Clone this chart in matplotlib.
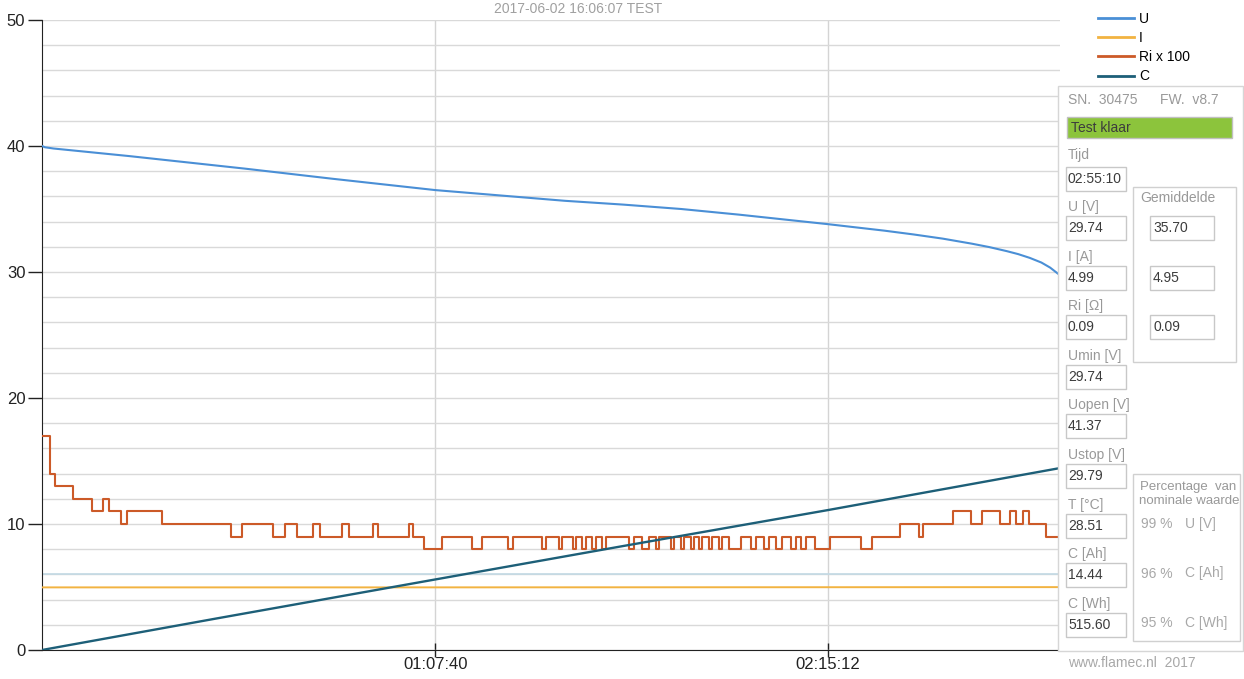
import matplotlib
matplotlib.use('Agg')
import matplotlib.pyplot as plt
from matplotlib.patches import Rectangle
from matplotlib.ticker import MultipleLocator

# tijd in minuten
u_tijd = [0, 0.5, 2, 15, 35, 50, 67.7, 90, 100, 110, 120, 135.2, 145, 150, 155, 160, 163, 166, 168,
          170, 172, 173.5, 175.2]
u_waarde = [40.0, 39.9, 39.8, 39.2, 38.2, 37.4, 36.5, 35.65, 35.35, 35.0, 34.55, 33.8, 33.28, 32.98,
            32.65, 32.25, 31.98, 31.66, 31.42, 31.12, 30.75, 30.35, 29.74]

i_tijd = [0, 60, 120, 175.2]
i_waarde = [4.97, 4.97, 4.98, 4.99]

c_tijd = [0, 30, 67.7, 100, 135.2, 175.2]
c_waarde = [0, 2.5, 5.6, 8.25, 11.1, 14.44]

ri_tijd = [0, 1.4, 2.2, 5.3, 8.6, 10.5, 11.5, 13.6, 14.6, 20.6, 32.6, 34.5, 39.7, 41.9,
           43.8, 46.7, 47.9, 51.7, 52.9, 56.9, 57.9, 63.1, 63.9, 65.8, 68.9, 74.0, 75.8,
           80.2, 81.1, 86.1, 86.8, 89.0, 89.5, 91.4, 91.9, 92.9, 93.6, 94.7, 95.3, 96.4,
           97.1, 101.0, 101.9, 103.3, 104.5, 105.7, 106.2, 108.2, 108.7, 110.0, 110.5,
           111.7, 112.2, 113.0, 113.6, 114.8, 115.3, 116.5, 117.0, 118.2, 120.3, 122.0,
           122.8, 124.2, 125.1, 126.4, 127.3, 128.9, 129.7, 130.6, 131.4, 133.1, 135.7,
           140.9, 142.8, 147.7, 151.0, 151.7, 156.7, 159.9, 161.7, 164.9, 166.6, 167.7,
           168.9, 169.9, 172.8, 175.2]
ri_waarde = [17, 14, 13, 12, 11, 12, 11, 10, 11, 10, 9, 10, 9, 10,
             9, 10, 9, 10, 9, 10, 9, 10, 9, 8, 9, 8, 9,
             8, 9, 8, 9, 8, 9, 8, 9, 8, 9, 8, 9, 8,
             9, 8, 9, 8, 9, 8, 9, 8, 9, 8, 9,
             8, 9, 8, 9, 8, 9, 8, 9, 8, 9, 8,
             9, 8, 9, 8, 9, 8, 9, 8, 9, 8, 9,
             8, 9, 10, 9, 10, 11, 10, 11, 10, 11, 10,
             11, 10, 9, 9]

x_ticks = [67.667, 135.2]
x_labels = ['01:07:40', '02:15:12']

labels = ['U [V]', 'I [A]', 'Ri [Ω]', 'Umin [V]', 'Uopen [V]', 'Ustop [V]', 'T [°C]', 'C [Ah]', 'C [Wh]']
waarden = ['29.74', '4.99', '0.09', '29.74', '41.37', '29.79', '28.51', '14.44', '515.60']
gemiddelde = ['35.70', '4.95', '0.09']
percentages = [('99 %', 'U [V]'), ('96 %', 'C [Ah]'), ('95 %', 'C [Wh]')]

W, H = 1244, 679
plt.rcParams['font.family'] = ['Liberation Sans', 'DejaVu Sans']

fig = plt.figure(figsize=(W / 100, H / 100), dpi=100)
ax = fig.add_axes([42 / W, 1 - 650 / H, (1060 - 42) / W, (650 - 20) / H])

kleur_u = '#4a8fd6'
kleur_i = '#f2b341'
kleur_ri = '#cc5a28'
kleur_c = '#1d5f78'

ax.plot(u_tijd, u_waarde, color=kleur_u, lw=1.5, label='U', zorder=4)
ax.plot(i_tijd, i_waarde, color=kleur_i, lw=1.4, label='I', zorder=4)
ax.step(ri_tijd, ri_waarde, where='post', color=kleur_ri, lw=1.5, label='Ri x 100', zorder=4)
ax.plot(c_tijd, c_waarde, color=kleur_c, lw=1.7, label='C', zorder=5)

ax.set_xlim(0, 175.2)
ax.set_ylim(0, 50)
ax.yaxis.set_major_locator(MultipleLocator(10))
ax.yaxis.set_minor_locator(MultipleLocator(2))
ax.grid(which='both', axis='y', color='#d9d9d9', lw=1)
ax.axhline(6, color='#c3d9e4', lw=1.2, zorder=1)
ax.set_xticks(x_ticks)
ax.set_xticklabels(x_labels)
ax.grid(axis='x', color='#d4d4d4', lw=1)
ax.set_axisbelow(True)
ax.tick_params(axis='y', which='minor', length=0)
ax.tick_params(axis='y', which='major', length=10, width=1, labelsize=12, colors='#222222', pad=2)
ax.tick_params(axis='x', length=10, width=1, direction='inout', labelsize=12, colors='#222222', pad=0)
for s in ['top', 'right']:
    ax.spines[s].set_visible(False)
ax.spines['left'].set_color('#222222')
ax.spines['bottom'].set_color('#222222')

fig.text(578 / W, 1 - 9 / H, '2017-06-02 16:06:07 TEST', ha='center', va='center', fontsize=10, color='#a0a0a0')

leg = fig.legend(loc='upper left', bbox_to_anchor=(1092 / W, 1 - 6 / H), frameon=False, fontsize=10,
                 handlelength=2.6, labelspacing=0.38, handletextpad=0.4, borderaxespad=0)
for h in leg.legend_handles:
    h.set_linewidth(2)


def fx(x):
    return x / W


def fy(y):
    return 1 - y / H


def rect(x0, y0, x1, y1, fc='white', ec='#c8c8c8', lw=1):
    fig.add_artist(Rectangle((fx(x0), fy(y1)), fx(x1) - fx(x0), fy(y0) - fy(y1),
                             transform=fig.transFigure, fc=fc, ec=ec, lw=lw))


def txt(x, y, s, color='#999999', size=10):
    fig.text(fx(x), fy(y), s, ha='left', va='center', fontsize=size, color=color)


# paneel
rect(1058, 86, 1243, 651, fc='white', ec='#d6d6d6')
txt(1068, 100, 'SN.  30475')
txt(1160, 100, 'FW.  v8.7')
rect(1067, 117, 1232, 138, fc='#8cc43c', ec='#c0c0c0')
txt(1071, 127.5, 'Test klaar', color='#3c3c3c')
txt(1068, 155, 'Tijd')
rect(1066, 167, 1126, 191)
txt(1068, 179, '02:55:10', color='#3c3c3c')

rect(1133, 187, 1236, 362, fc='none', ec='#d0d0d0')
txt(1140, 198, 'Gemiddelde')
rect(1133, 474, 1240, 641, fc='none', ec='#d0d0d0')
txt(1140, 487, 'Percentage  van', size=9.5)
txt(1139, 501, 'nominale waarde', size=9.5)

for k, (lab, val) in enumerate(zip(labels, waarden)):
    yl = 207 + k * 49.6
    txt(1068, yl, lab)
    rect(1066, yl + 9, 1126, yl + 33)
    txt(1068, yl + 21, val, color='#3c3c3c')
    if k < len(gemiddelde):
        rect(1150, yl + 9, 1214, yl + 33)
        txt(1153, yl + 21, gemiddelde[k], color='#3c3c3c')

for k, (p, naam) in enumerate(percentages):
    yp = 524 + k * 49.5
    txt(1141, yp, p, color='#a8a8a8')
    txt(1185, yp, naam, color='#a8a8a8')

txt(1068, 663, 'www.flamec.nl  2017', color='#a8a8a8')

fig.savefig('out.png', dpi=100)
